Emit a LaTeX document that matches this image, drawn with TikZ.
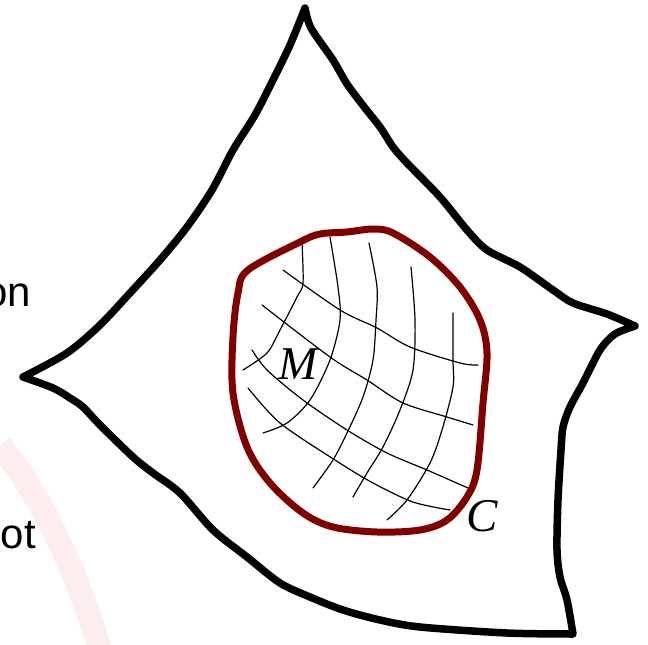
\documentclass[tikz,border=0pt]{standalone}
\usepackage{fontspec}
\setmainfont{Liberation Serif}
\newfontfamily\sansfam{Liberation Sans}
\definecolor{rimred}{RGB}{128,0,0}
\definecolor{wmpink}{RGB}{253,237,239}
\begin{document}
\begin{tikzpicture}[x=1pt,y=-1pt,
  outline/.style={line width=7.5pt,line join=round,line cap=round,black},
  rim/.style={line width=7pt,rimred,line join=round},
  gridline/.style={line width=1.2pt,black,line cap=round},
  lbl/.style={inner sep=0pt,font=\fontsize{47}{50}\selectfont\itshape},
  sidetxt/.style={inner sep=0pt,font=\sansfam\fontsize{42}{46}\selectfont}]
\useasboundingbox (0,0) rectangle (648,645);
% faint watermark
\draw[line width=24pt,wmpink,line cap=butt] (0,445) .. controls (40,495) and (75,565) .. (100,650);
% side texts (cut off at the left edge)
\node[sidetxt,anchor=base east] (on) at (31,306) {on};
\node[sidetxt,anchor=base east] (ot) at (36,548) {ot};
% outer boundary
\draw[outline]
  plot[smooth,tension=0.5] coordinates {(305,8) (311,28) (333,60) (347,84) (365,108) (380,127) (393,147) (407,163) (440,197) (467,230) (487,250) (520,267) (553,290) (573,303) (607,314) (635,326)}
  -- plot[smooth,tension=0.5] coordinates {(635,326) (615,334) (600,350) (583,383) (570,407) (563,427) (561,450) (558,500) (557,550) (560,577) (567,600) (573,634)}
  -- plot[smooth,tension=0.5] coordinates {(573,634) (507,633) (420,627) (380,620) (343,610) (310,597) (280,583) (247,557) (213,530) (180,493) (153,473) (133,457) (100,425) (83,407) (70,398) (53,388) (23,377)}
  -- plot[smooth,tension=0.5] coordinates {(23,377) (67,353) (100,325) (130,293) (160,260) (187,227) (212,190) (233,150) (255,115) (273,80) (290,45) (305,8)};
% grid lines
\draw[gridline] plot[smooth] coordinates {(302,243) (303,283) (297,297) (280,330) (267,353) (243,370)};
\draw[gridline] plot[smooth] coordinates {(330,237) (338,287) (340,320) (330,360) (310,400) (287,423) (263,433)};
\draw[gridline] plot[smooth] coordinates {(369,243) (377,287) (376,320) (373,360) (363,397) (347,433) (333,460) (313,488)};
\draw[gridline] plot[smooth] coordinates {(411,267) (415,320) (413,370) (400,410) (383,447) (367,473) (353,497)};
\draw[gridline] plot[smooth] coordinates {(453,313) (453,360) (453,387) (442,430) (430,463) (407,500) (387,520)};
\draw[gridline] plot[smooth] coordinates {(283,270) (340,310) (377,328) (410,347) (460,363) (478,365)};
\draw[gridline] plot[smooth] coordinates {(262,305) (330,357) (367,380) (403,403) (447,417) (473,425)};
\draw[gridline] plot[smooth] coordinates {(252,350) (267,370) (303,400) (347,430) (387,453) (427,470) (468,488)};
\draw[gridline] plot[smooth] coordinates {(248,388) (280,423) (335,460) (373,483) (413,502) (450,510)};
% inner rim
\draw[rim] plot[smooth cycle,tension=0.55] coordinates {(248,270) (300,242) (320,234) (347,232) (373,229) (393,233) (430,257) (460,287) (480,320) (487,353) (483,403) (477,470) (467,497) (447,520) (420,530) (377,532) (333,527) (303,513) (270,483) (247,447) (233,393) (233,337) (238,293)};
% labels
\node[lbl] (M) at (298,364) {M};
\node[lbl] (C) at (482,516) {C};
\end{tikzpicture}
\end{document}
